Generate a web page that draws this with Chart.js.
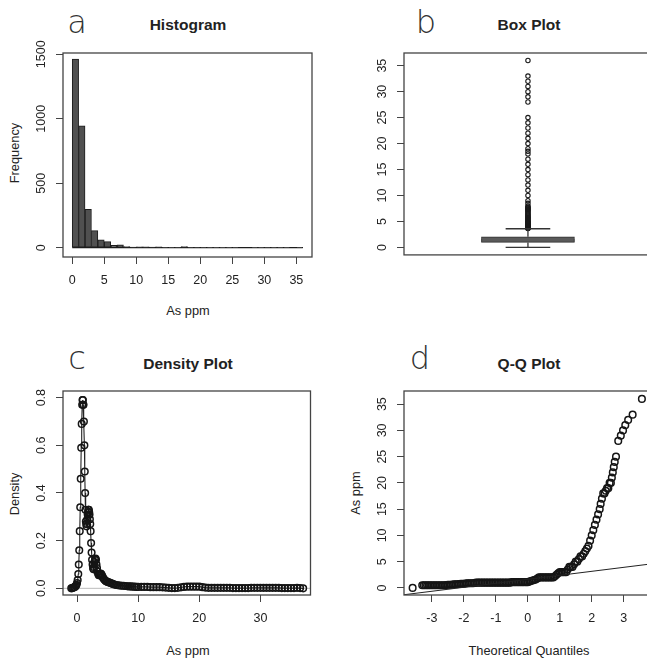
<!DOCTYPE html>
<html>
<head>
<meta charset="utf-8">
<script src="https://cdn.jsdelivr.net/npm/chart.js@4.4.1/dist/chart.umd.min.js"></script>
<style>
body { margin:0; width:647px; height:658px; overflow:hidden; background:#fff; position:relative;
       font-family:"Liberation Sans", Arial, sans-serif; color:#222; }
canvas { position:absolute; }
.t { position:absolute; white-space:nowrap; line-height:1; transform:translate(-50%,-50%); }
.letter { font-family:"DejaVu Sans", sans-serif; font-weight:200; font-size:32px; color:#333; }
.title { font-weight:bold; font-size:15.5px; }
.axt { font-size:12.8px; }
.rot { transform:translate(-50%,-50%) rotate(-90deg); }
</style>
</head>
<body>
<div class="t letter" style="left:77px;top:22px">a</div>
<div class="t title" style="left:188px;top:24.5px">Histogram</div>
<div class="t axt" style="left:188px;top:311px">As ppm</div>
<div class="t axt rot" style="left:15px;top:153px">Frequency</div>

<div class="t letter" style="left:426px;top:22px">b</div>
<div class="t title" style="left:529px;top:24.5px">Box Plot</div>

<div class="t letter" style="left:77px;top:358px">c</div>
<div class="t title" style="left:188px;top:363.5px">Density Plot</div>
<div class="t axt" style="left:188px;top:651px">As ppm</div>
<div class="t axt rot" style="left:15px;top:494px">Density</div>

<div class="t letter" style="left:420px;top:358px">d</div>
<div class="t title" style="left:529px;top:363.5px">Q-Q Plot</div>
<div class="t axt" style="left:529px;top:651px">Theoretical Quantiles</div>
<div class="t axt rot" style="left:356px;top:493px">As ppm</div>

<script>
// ---- data ----
// a: histogram, 1 ppm bins starting at 0
const histBinStart = 0;
const histBinWidth = 1;
const histCounts = [1463, 946, 298, 132, 62, 47, 18, 22, 8, 4, 6, 6, 4, 6, 2, 1, 2, 8,
                    2, 2, 1, 1, 1, 1, 1, 1, 0, 0, 1, 1, 1, 1, 1, 1, 0, 1];
const histXTicks = [0, 5, 10, 15, 20, 25, 30, 35];
const histYTicks = [0, 500, 1000, 1500];

// b: box plot  (min, q1, median, q3, upper whisker)
const boxStats = [0, 0.95, 1.35, 2.05, 3.6];
const boxOutliers = [3.65, 3.7, 3.75, 3.8, 3.85, 3.9, 3.95, 4.0, 4.05, 4.1, 4.15, 4.2, 4.3, 4.4,
                     4.5, 4.6, 4.7, 4.8, 4.9, 5.0, 5.1, 5.2, 5.4, 5.5, 5.7, 5.8, 6.0, 6.2, 6.4,
                     6.6, 6.8, 7.0, 7.2, 7.3, 7.5, 7.6, 7.8, 8.0, 8.5, 9.0, 10, 11, 12, 13, 14,
                     15, 16, 17, 18, 18.5, 19, 20, 21, 22, 23, 24, 25, 28, 29, 30, 31, 32, 33, 36];
const ppmTicks = [0, 5, 10, 15, 20, 25, 30, 35];

// c: density estimate [x, density]
const densityPoints = [
  [-0.95,0.000],[-0.8,0.001],[-0.65,0.002],[-0.5,0.004],[-0.35,0.006],[-0.2,0.010],[-0.1,0.015],
  [0.0,0.022],[0.1,0.035],[0.2,0.060],[0.28,0.100],[0.36,0.160],[0.44,0.240],[0.52,0.340],
  [0.6,0.460],[0.68,0.590],[0.76,0.690],[0.84,0.770],[0.9,0.790],[0.95,0.790],[1.0,0.770],
  [1.05,0.770],[1.12,0.700],[1.2,0.600],[1.26,0.490],[1.32,0.400],[1.38,0.330],[1.44,0.280],
  [1.5,0.270],[1.56,0.260],[1.62,0.270],[1.68,0.290],[1.74,0.310],[1.8,0.320],[1.86,0.330],
  [1.92,0.330],[1.98,0.320],[2.04,0.310],[2.1,0.290],[2.16,0.270],[2.22,0.240],[2.3,0.190],
  [2.38,0.150],[2.46,0.120],[2.54,0.100],[2.62,0.085],[2.7,0.080],[2.78,0.090],[2.86,0.110],
  [2.94,0.120],[3.02,0.125],[3.1,0.120],[3.18,0.100],[3.26,0.085],[3.36,0.070],[3.46,0.060],
  [3.56,0.055],[3.66,0.055],[3.76,0.060],[3.86,0.062],[3.96,0.060],[4.06,0.055],[4.18,0.048],
  [4.3,0.042],[4.45,0.037],[4.6,0.033],[4.75,0.030],[4.9,0.028],[5.1,0.026],[5.3,0.024],
  [5.5,0.022],[5.7,0.020],[5.9,0.018],[6.1,0.016],[6.4,0.014],[6.7,0.013],[7.0,0.012],
  [7.3,0.011],[7.6,0.011],[7.9,0.010],[8.2,0.009],[8.5,0.008],[8.8,0.008],[9.1,0.007],
  [9.4,0.007],[9.7,0.006],[10,0.006],[10.5,0.006],[11,0.006],[11.5,0.006],[12,0.005],
  [12.5,0.005],[13,0.005],[13.5,0.005],[14,0.004],[14.5,0.003],[15,0.002],[15.5,0.001],
  [16,0.001],[16.5,0.002],[17,0.004],[17.5,0.006],[18,0.007],[18.5,0.007],[19,0.007],
  [19.5,0.007],[20,0.007],[20.5,0.005],[21,0.003],[21.5,0.002],[22,0.002],[22.5,0.002],
  [23,0.002],[23.5,0.002],[24,0.002],[24.5,0.002],[25,0.002],[25.5,0.001],[26,0.001],
  [26.5,0.001],[27,0.001],[27.5,0.001],[28,0.001],[28.5,0.002],[29,0.002],[29.5,0.002],
  [30,0.002],[30.5,0.002],[31,0.002],[31.5,0.002],[32,0.002],[32.5,0.002],[33,0.002],
  [33.5,0.001],[34,0.001],[34.5,0.001],[35,0.001],[35.5,0.001],[36,0.002],[36.5,0.001],[37,0.000]
];
const densXTicks = [0, 10, 20, 30];
const densYTicks = [0, 0.2, 0.4, 0.6, 0.8];
const densYLabels = ['0.0', '0.2', '0.4', '0.6', '0.8'];

// d: normal Q-Q plot [theoretical quantile, sample value]
const qqPoints = [
  [-3.6,0.0],[-3.3,0.5],[-3.25,0.5],[-3.2,0.5],[-3.15,0.5],[-3.1,0.5],[-3.05,0.5],[-3.0,0.5],
  [-2.95,0.5],[-2.9,0.5],[-2.85,0.5],[-2.8,0.5],[-2.75,0.5],[-2.7,0.5],[-2.65,0.5],[-2.6,0.5],
  [-2.55,0.55],[-2.5,0.6],[-2.45,0.6],[-2.4,0.6],[-2.35,0.65],[-2.3,0.7],[-2.25,0.7],[-2.2,0.7],
  [-2.15,0.75],[-2.1,0.8],[-2.05,0.8],[-2.0,0.8],[-1.95,0.85],[-1.9,0.9],[-1.85,0.9],[-1.8,0.9],
  [-1.75,0.9],[-1.7,0.9],[-1.65,0.95],[-1.6,1.0],[-1.55,1.0],[-1.5,1.0],[-1.45,1.0],[-1.4,1.0],
  [-1.35,1.0],[-1.3,1.0],[-1.25,1.0],[-1.2,1.0],[-1.15,1.0],[-1.1,1.0],[-1.05,1.0],[-1.0,1.0],
  [-0.95,1.0],[-0.9,1.0],[-0.85,1.0],[-0.8,1.0],[-0.75,1.0],[-0.7,1.0],[-0.65,1.0],[-0.6,1.0],
  [-0.55,1.0],[-0.5,1.1],[-0.45,1.1],[-0.4,1.1],[-0.35,1.1],[-0.3,1.1],[-0.25,1.1],[-0.2,1.1],
  [-0.15,1.1],[-0.1,1.1],[-0.05,1.1],[0.0,1.1],[0.05,1.2],[0.1,1.3],[0.15,1.4],[0.2,1.5],
  [0.25,1.6],[0.3,1.8],[0.35,2.0],[0.4,2.0],[0.45,2.0],[0.5,2.0],[0.55,2.0],[0.6,2.0],
  [0.65,2.0],[0.7,2.0],[0.75,2.0],[0.8,2.0],[0.85,2.2],[0.9,2.5],[0.95,2.8],[1.0,3.0],
  [1.05,3.0],[1.1,3.0],[1.15,3.0],[1.2,3.0],[1.25,3.5],[1.3,4.0],[1.35,4.0],[1.4,4.0],
  [1.45,4.5],[1.5,5.0],[1.55,5.0],[1.6,5.5],[1.65,6.0],[1.7,6.0],[1.75,6.5],[1.8,7.0],
  [1.85,7.5],[1.9,8.0],[1.95,9.0],[2.0,10],[2.05,11],[2.1,12],[2.15,13],[2.2,14],[2.25,15],
  [2.28,16],[2.32,17],[2.36,18],[2.4,18],[2.44,18.5],[2.48,19],[2.52,19],[2.56,20],[2.6,20],
  [2.63,21],[2.66,22],[2.69,23],[2.72,24],[2.76,25],[2.83,28],[2.91,29],[2.98,30],[3.05,31],
  [3.14,32],[3.28,33],[3.57,36]
];
const qqLineX = [-3.87, 3.87];
const qqLineY = [-1.30, 4.58];
const qqXTicks = [-3, -2, -1, 0, 1, 2, 3];

// ---- layout / style ----
const YW = 30, XH = 36, PAD = 4, PADT = 18;
const INK = '#222';
Chart.defaults.font.family = '"Liberation Sans", Arial, sans-serif';
Chart.defaults.font.size = 12.5;
Chart.defaults.color = INK;

const rFrame = {
  id: 'rFrame',
  beforeDatasetsDraw(chart, args, opts) {
    if (!opts.zeroLine) return;
    const { ctx, chartArea: a } = chart;
    const y = chart.scales.y.getPixelForValue(0);
    ctx.save();
    ctx.strokeStyle = '#bbb'; ctx.lineWidth = 1;
    ctx.beginPath(); ctx.moveTo(a.left, y); ctx.lineTo(a.right, y); ctx.stroke();
    ctx.restore();
  },
  afterDraw(chart, args, opts) {
    const { ctx, chartArea: a } = chart;
    const ys = chart.scales.y;
    ctx.save();
    ctx.strokeStyle = '#444'; ctx.lineWidth = 1.3;
    ctx.strokeRect(a.left, a.top, a.right - a.left, a.bottom - a.top);
    ctx.fillStyle = INK;
    ctx.font = '12.5px "Liberation Sans", Arial, sans-serif';
    ctx.textAlign = 'center'; ctx.textBaseline = 'middle';
    opts.yTicks.forEach((v, i) => {
      ctx.save();
      ctx.translate(a.left - opts.labelOffset, ys.getPixelForValue(v));
      ctx.rotate(-Math.PI / 2);
      ctx.fillText(opts.yLabels ? opts.yLabels[i] : String(v), 0, 0);
      ctx.restore();
    });
    ctx.restore();
  }
};

function panel(box, hasX) {
  const c = document.createElement('canvas');
  const w = box.r - box.l + YW + 2 * PAD;
  const h = box.b - box.t + (hasX ? XH : 0) + PAD + PADT;
  c.width = w; c.height = h;
  c.style.left = (box.l - YW - PAD) + 'px';
  c.style.top = (box.t - PADT) + 'px';
  c.style.width = w + 'px'; c.style.height = h + 'px';
  document.body.appendChild(c);
  return c.getContext('2d');
}

const tickGrid = { drawOnChartArea: false, drawTicks: true, tickLength: 7, color: '#444', offset: false };

function xAxis(min, max, ticks) {
  return {
    type: 'linear', min, max, offset: false,
    afterBuildTicks: s => { s.ticks = ticks.map(v => ({ value: v })); },
    afterFit: s => { s.height = XH; },
    ticks: { autoSkip: false, maxRotation: 0, minRotation: 0, padding: 9, color: INK,
             callback: v => String(v) },
    grid: tickGrid,
    border: { display: false }
  };
}
function yAxis(min, max, ticks) {
  return {
    type: 'linear', min, max,
    afterBuildTicks: s => { s.ticks = ticks.map(v => ({ value: v })); },
    afterFit: s => { s.width = YW; },
    ticks: { display: false },
    grid: tickGrid,
    border: { display: false }
  };
}
function baseOptions(scales, frame) {
  return {
    responsive: false, animation: false, devicePixelRatio: 1,
    layout: { padding: { top: PADT, left: PAD, right: PAD, bottom: PAD } },
    scales,
    plugins: { legend: { display: false }, tooltip: { enabled: false }, rFrame: frame }
  };
}

const ring = { pointRadius: 3.3, pointBorderColor: '#151515', pointBackgroundColor: 'rgba(0,0,0,0)', pointBorderWidth: 1.5 };

// a: Histogram
new Chart(panel({ l: 63, t: 53, r: 312, b: 257 }, true), {
  type: 'scatter',
  data: { datasets: [
    { type: 'bar',
      data: histCounts.map((c, i) => ({ x: histBinStart + (i + 0.5) * histBinWidth, y: c })),
      backgroundColor: '#505050', borderColor: '#1c1c1c', borderWidth: 1, borderSkipped: false,
      barPercentage: 1, categoryPercentage: 1 },
    { type: 'line',
      data: [{ x: histBinStart, y: 0 }, { x: histBinStart + histCounts.length * histBinWidth, y: 0 }],
      borderColor: '#1c1c1c', borderWidth: 1.2, pointRadius: 0 }
  ] },
  options: baseOptions({ x: xAxis(-1.44, 37.44, histXTicks), y: yAxis(-72, 1510, histYTicks) },
                       { yTicks: histYTicks, labelOffset: 21 }),
  plugins: [rFrame]
});

// b: Box plot
const BOX_HALF = 0.187, CAP_HALF = 0.09;
const [bMin, bQ1, bMed, bQ3, bUp] = boxStats;
const seg = (x0, y0, x1, y1, w) => ({ type: 'line', data: [{ x: x0, y: y0 }, { x: x1, y: y1 }],
  borderColor: '#333', borderWidth: w || 1.3, pointRadius: 0 });
new Chart(panel({ l: 404, t: 53, r: 653, b: 256 }, false), {
  type: 'scatter',
  data: { datasets: [
    seg(1, bMin, 1, bQ1), seg(1, bQ3, 1, bUp),
    seg(1 - CAP_HALF, bMin, 1 + CAP_HALF, bMin), seg(1 - CAP_HALF, bUp, 1 + CAP_HALF, bUp),
    { type: 'bar', data: [{ x: 1, y: [bQ1, bQ3] }], backgroundColor: '#5a5a5a', borderColor: '#333',
      borderWidth: 1, borderSkipped: false, barThickness: 93 },
    seg(1 - BOX_HALF, bMed, 1 + BOX_HALF, bMed, 3),
    { type: 'scatter', data: boxOutliers.map(v => ({ x: 1, y: v })), pointRadius: 2.2,
      pointBorderColor: '#1a1a1a', pointBackgroundColor: 'rgba(0,0,0,0)', pointBorderWidth: 1.1 }
  ] },
  options: baseOptions({ x: { type: 'linear', min: 0.5, max: 1.5, display: false, offset: false },
                         y: yAxis(-1.44, 37.44, ppmTicks) },
                       { yTicks: ppmTicks, labelOffset: 21 }),
  plugins: [rFrame]
});

// c: Density plot
new Chart(panel({ l: 63, t: 391, r: 312, b: 595 }, true), {
  type: 'scatter',
  data: { datasets: [
    Object.assign({ type: 'line', data: densityPoints.map(p => ({ x: p[0], y: p[1] })),
      borderColor: '#222', borderWidth: 1.1, tension: 0 }, ring)
  ] },
  options: baseOptions({ x: xAxis(-2.3, 38.2, densXTicks), y: yAxis(-0.028, 0.828, densYTicks) },
                       { yTicks: densYTicks, yLabels: densYLabels, labelOffset: 21, zeroLine: true }),
  plugins: [rFrame]
});

// d: Q-Q plot
new Chart(panel({ l: 404, t: 391, r: 653, b: 595 }, true), {
  type: 'scatter',
  data: { datasets: [
    { type: 'line', data: qqLineX.map((x, i) => ({ x, y: qqLineY[i] })),
      borderColor: '#222', borderWidth: 1, pointRadius: 0 },
    Object.assign({ type: 'scatter', data: qqPoints.map(p => ({ x: p[0], y: p[1] })) }, ring)
  ] },
  options: baseOptions({ x: xAxis(-3.87, 3.87, qqXTicks), y: yAxis(-1.35, 37.5, ppmTicks) },
                       { yTicks: ppmTicks, labelOffset: 21 }),
  plugins: [rFrame]
});
</script>
</body>
</html>
